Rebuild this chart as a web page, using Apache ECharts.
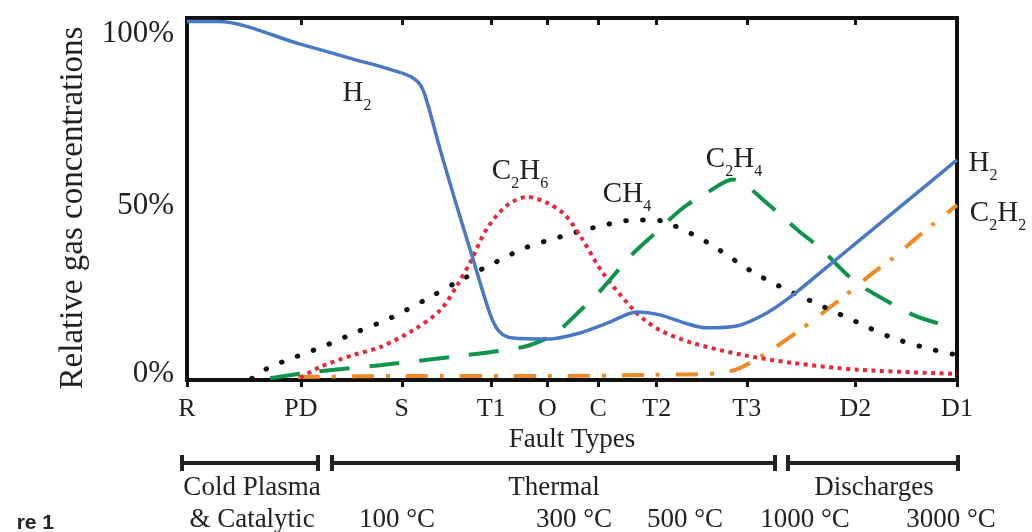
<!DOCTYPE html>
<html>
<head>
<meta charset="utf-8">
<script src="https://cdn.jsdelivr.net/npm/echarts@6/dist/echarts.min.js"></script>
<style>
  html, body { margin: 0; background: #fff; }
  #chart { width: 1032px; height: 532px; }
</style>
</head>
<body>
<div id="chart"></div>
<script>
// fault types and where they sit on the axis (R = 0, D1 = 100)
const faultNames = ['R', 'PD', 'S', 'T1', 'O', 'C', 'T2', 'T3', 'D2', 'D1']
const faultPos = [0, 14.8, 27.9, 39.5, 46.8, 53.4, 61.0, 72.7, 86.8, 100]
const yTicks = [0, 50, 100]

// relative gas concentrations [position, %]
const h2 = [[0, 99], [4, 99], [14.7, 92.8], [21, 89], [28.3, 84.5], [30.0, 82.3], [30.9, 78.7], [32.9, 63.5],
  [34.8, 49.7], [37.1, 33.7], [39.4, 18.0], [40.6, 13.3], [42.3, 11.6], [46.8, 11.3], [51.0, 13.0],
  [54.9, 16.0], [58.4, 18.8], [61.4, 18.0], [64.7, 15.7], [67.5, 14.4], [71.4, 14.9], [75.3, 18.5],
  [78.7, 23.5], [83.1, 31.2], [87.4, 38.7], [92.6, 47.8], [100, 60.8]]
const c2h6 = [[14.7, 0.6], [17.3, 3.6], [21.6, 6.9], [25.1, 9.1], [29.4, 13.8], [32.9, 19.3], [35.1, 26.2],
  [36.8, 32.6], [39.0, 42.0], [41.6, 48.3], [44.2, 50.6], [46.8, 48.9], [49.1, 45.6], [51.4, 38.7],
  [54.0, 29.6], [58.4, 18.5], [61.4, 13.8], [65.7, 10.2], [72.2, 6.9], [78.7, 4.7], [87.4, 2.8], [100, 1.7]]
const ch4 = [[8.4, 0.4], [10.5, 3.3], [13.0, 5.5], [17.5, 9.1], [22.1, 13.3], [26.4, 17.1], [30.9, 22.1],
  [35.1, 27.1], [39.4, 31.8], [43.9, 36.5], [48.4, 39.5], [53.2, 42.3], [58.2, 44.2], [60.8, 44.2],
  [63.1, 42.8], [67.5, 38.1], [73.5, 29.8], [77.9, 24.9], [82.2, 20.7], [87.0, 16.0], [91.3, 11.9],
  [96.1, 8.8], [100, 6.9]]
const c2h4 = [[10.8, 0.5], [16.4, 2.2], [25.1, 4.1], [34.5, 6.4], [43.6, 9.1], [46.8, 11.6], [48.4, 13.8],
  [51.4, 19.9], [54.0, 25.4], [57.5, 34.0], [60.1, 39.2], [64.4, 47.5], [67.5, 51.7], [70.9, 55.4],
  [72.4, 54.1], [75.3, 48.9], [79.6, 40.9], [82.2, 36.5], [86.5, 27.6], [89.1, 24.0], [94.3, 18.0],
  [97.8, 15.5], [100, 14.4]]
const c2h2 = [[14.4, 0.8], [27.7, 1.1], [47.1, 1.1], [60.1, 1.4], [69.2, 1.9], [71.8, 3.3], [75.3, 7.5],
  [79.6, 13.8], [85.2, 22.9], [89.1, 29.6], [91.7, 33.7], [95.2, 40.1], [100, 48.3]]

const serif = '"Liberation Serif", "Times New Roman", serif'
const ink = '#222'

const chart = echarts.init(document.getElementById('chart'))

// 化学式标签，带下标
const sub = (txt) => ({
  text: txt,
  rich: {
    n: { font: '29px ' + serif, fill: ink, verticalAlign: 'bottom', padding: [0, 0, 6, 0] },
    s: { font: '16px ' + serif, fill: ink, verticalAlign: 'bottom' }
  },
  align: 'center',
  verticalAlign: 'middle'
})

const txt = (s, x, y, size) => ({
  type: 'text', x, y, silent: true,
  style: { text: s, font: (size || 27) + 'px ' + serif, fill: ink, align: 'center', verticalAlign: 'middle' }
})

const bracket = (x1, x2, y) => [
  { type: 'line', shape: { x1, y1: y, x2, y2: y }, style: { stroke: ink, lineWidth: 4 } },
  { type: 'line', shape: { x1, y1: y - 8, x2: x1, y2: y + 8 }, style: { stroke: ink, lineWidth: 4 } },
  { type: 'line', shape: { x1: x2, y1: y - 8, x2, y2: y + 8 }, style: { stroke: ink, lineWidth: 4 } }
]

const lineSeries = (name, data, color, width, type, cap) => ({
  name, type: 'line', data,
  smooth: 0.3, showSymbol: false, silent: true,
  lineStyle: { color, width, type, cap: cap || 'butt' }
})

const option = {
  backgroundColor: '#fff',
  animation: false,
  grid: {
    left: 187, right: 75, top: 18, bottom: 152,
    show: true, borderColor: '#111', borderWidth: 4
  },
  xAxis: [
    {
      type: 'value', min: 0, max: 100,
      name: 'Fault Types', nameLocation: 'middle', nameGap: 45,
      nameTextStyle: { fontFamily: serif, fontSize: 27, color: ink },
      axisLine: { show: false },
      splitLine: { show: false },
      axisTick: { show: true, customValues: faultPos, length: 7, lineStyle: { color: '#111', width: 3 } },
      axisLabel: {
        customValues: faultPos, margin: 16,
        fontFamily: serif, fontSize: 26, color: ink,
        formatter: v => faultNames[faultPos.indexOf(v)]
      }
    },
    {
      type: 'value', min: 0, max: 100, position: 'top',
      axisLine: { show: false },
      splitLine: { show: false },
      axisTick: { show: true, inside: true, customValues: faultPos, length: 7, lineStyle: { color: '#111', width: 3 } },
      axisLabel: { show: false }
    }
  ],
  yAxis: {
    type: 'value', min: 0, max: 100, interval: 50,
    name: 'Relative gas concentrations', nameLocation: 'middle', nameGap: 97,
    nameTextStyle: { fontFamily: serif, fontSize: 33, color: ink, padding: [0, 18, 0, 0] },
    axisLine: { show: false },
    axisTick: { show: false },
    splitLine: { show: false },
    axisLabel: {
      margin: 13,
      formatter: v => v === 100 ? '{a|100%}' : v === 0 ? '{b|0%}' : '{c|50%}',
      rich: {
        a: { fontFamily: serif, fontSize: 31, color: ink, padding: [32, 0, 0, 0] },
        b: { fontFamily: serif, fontSize: 31, color: ink, padding: [0, 0, 12, 0] },
        c: { fontFamily: serif, fontSize: 31, color: ink, padding: [14, 0, 0, 0] }
      }
    }
  },
  series: [
    lineSeries('C2H2', c2h2, '#F08A24', 4, [22, 12, 4, 16]),
    lineSeries('CH4', ch4, '#111', 5, [0.5, 16.5], 'round'),
    lineSeries('C2H6', c2h6, '#E8283A', 4, [4, 4.5]),
    lineSeries('C2H4', c2h4, '#10944A', 4, [30, 20]),
    lineSeries('H2', h2, '#4A78C4', 3.5, 'solid')
  ],
  graphic: [
    // 曲线标注
    { type: 'text', x: 357, y: 96, silent: true, style: sub('{n|H}{s|2}') },
    { type: 'text', x: 520, y: 174, silent: true, style: sub('{n|C}{s|2}{n|H}{s|6}') },
    { type: 'text', x: 627, y: 197, silent: true, style: sub('{n|CH}{s|4}') },
    { type: 'text', x: 734, y: 162, silent: true, style: sub('{n|C}{s|2}{n|H}{s|4}') },
    { type: 'text', x: 983, y: 166, silent: true, style: sub('{n|H}{s|2}') },
    { type: 'text', x: 998, y: 216, silent: true, style: sub('{n|C}{s|2}{n|H}{s|2}') },
    // 分组括号
    ...bracket(182, 318, 463),
    ...bracket(332, 775, 463),
    ...bracket(788, 958, 463),
    txt('Cold Plasma', 252, 488),
    txt('& Catalytic', 252, 520),
    txt('Thermal', 554, 488),
    txt('Discharges', 874, 488),
    txt('100 °C', 397, 520),
    txt('300 °C', 574, 520),
    txt('500 °C', 685, 520),
    txt('1000 °C', 805, 520),
    txt('3000 °C', 951, 520),
    {
      type: 'text', x: 54, y: 523, silent: true,
      style: { text: 'Figure 1', font: 'bold 21px "Liberation Sans", Arial, sans-serif', fill: '#222', align: 'right', verticalAlign: 'middle' }
    },
    // 左侧被裁掉的图注
    { type: 'rect', shape: { x: 0, y: 505, width: 16, height: 27 }, style: { fill: '#fff' } }
  ]
}

chart.setOption(option)
</script>
</body>
</html>
